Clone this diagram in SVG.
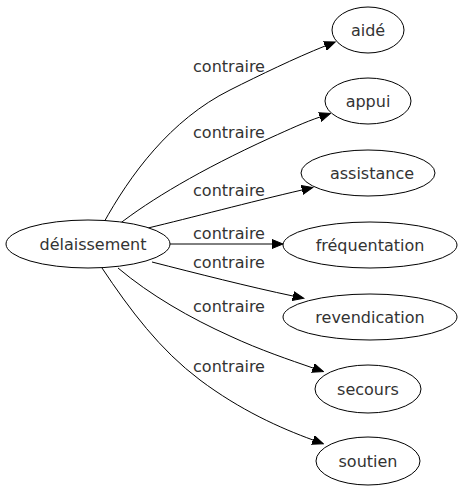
<svg xmlns="http://www.w3.org/2000/svg" width="459" height="491" viewBox="0 0 459 491">
<defs>
<style>
.node ellipse{fill:#fff;stroke:#000;stroke-width:1}
.node text{font-family:"DejaVu Sans",sans-serif;font-size:16px;fill:#333;text-anchor:middle}
.edge path{fill:none;stroke:#000;stroke-width:1}
.lbl{font-family:"DejaVu Sans",sans-serif;font-size:16px;fill:#333;text-anchor:middle}
</style>
<marker id="arr" markerUnits="userSpaceOnUse" markerWidth="12" markerHeight="10" refX="0" refY="4.5" orient="auto" viewBox="0 -0.5 12 10">
<path d="M0,0 L11,4.5 L0,9 z" fill="#000" stroke="#000" stroke-width="1"/>
</marker>
</defs>
<rect width="459" height="491" fill="#fff"/>
<g id="edges" class="edge">
<path d="M103,224 C130,175 170,120 230,90 C260,75 295,58 325,46" marker-end="url(#arr)"/>
<path d="M118,225 C150,200 200,170 270,138 C290,129 305,122 320,117" marker-end="url(#arr)"/>
<path d="M148,228 C190,218 250,202 302,190" marker-end="url(#arr)"/>
<path d="M170,244 L272,244" marker-end="url(#arr)"/>
<path d="M152,262 C195,273 250,287 293,296" marker-end="url(#arr)"/>
<path d="M118,268 C150,295 190,318 230,336 C260,350 290,360 313,368" marker-end="url(#arr)"/>
<path d="M102,268 C130,310 160,350 200,380 C240,410 280,428 313,440" marker-end="url(#arr)"/>
<text class="lbl" x="229" y="72">contraire</text>
<text class="lbl" x="229" y="138">contraire</text>
<text class="lbl" x="229" y="196">contraire</text>
<text class="lbl" x="229" y="239">contraire</text>
<text class="lbl" x="229" y="268">contraire</text>
<text class="lbl" x="229" y="312">contraire</text>
<text class="lbl" x="229" y="372">contraire</text>
</g>
<g id="n0" class="node"><ellipse cx="88" cy="244" rx="82" ry="24"/><text x="93" y="250">délaissement</text></g>
<g id="n1" class="node"><ellipse cx="368" cy="30" rx="36" ry="23"/><text x="368" y="36">aidé</text></g>
<g id="n2" class="node"><ellipse cx="368" cy="101" rx="43" ry="23"/><text x="368" y="107">appui</text></g>
<g id="n3" class="node"><ellipse cx="368" cy="173" rx="67" ry="23"/><text x="372" y="179">assistance</text></g>
<g id="n4" class="node"><ellipse cx="370" cy="245" rx="87" ry="23"/><text x="370" y="251">fréquentation</text></g>
<g id="n5" class="node"><ellipse cx="370" cy="317" rx="87" ry="23"/><text x="370" y="323">revendication</text></g>
<g id="n6" class="node"><ellipse cx="368" cy="389" rx="53" ry="24"/><text x="368" y="395">secours</text></g>
<g id="n7" class="node"><ellipse cx="368" cy="461" rx="52" ry="24"/><text x="368" y="467">soutien</text></g>
</svg>
